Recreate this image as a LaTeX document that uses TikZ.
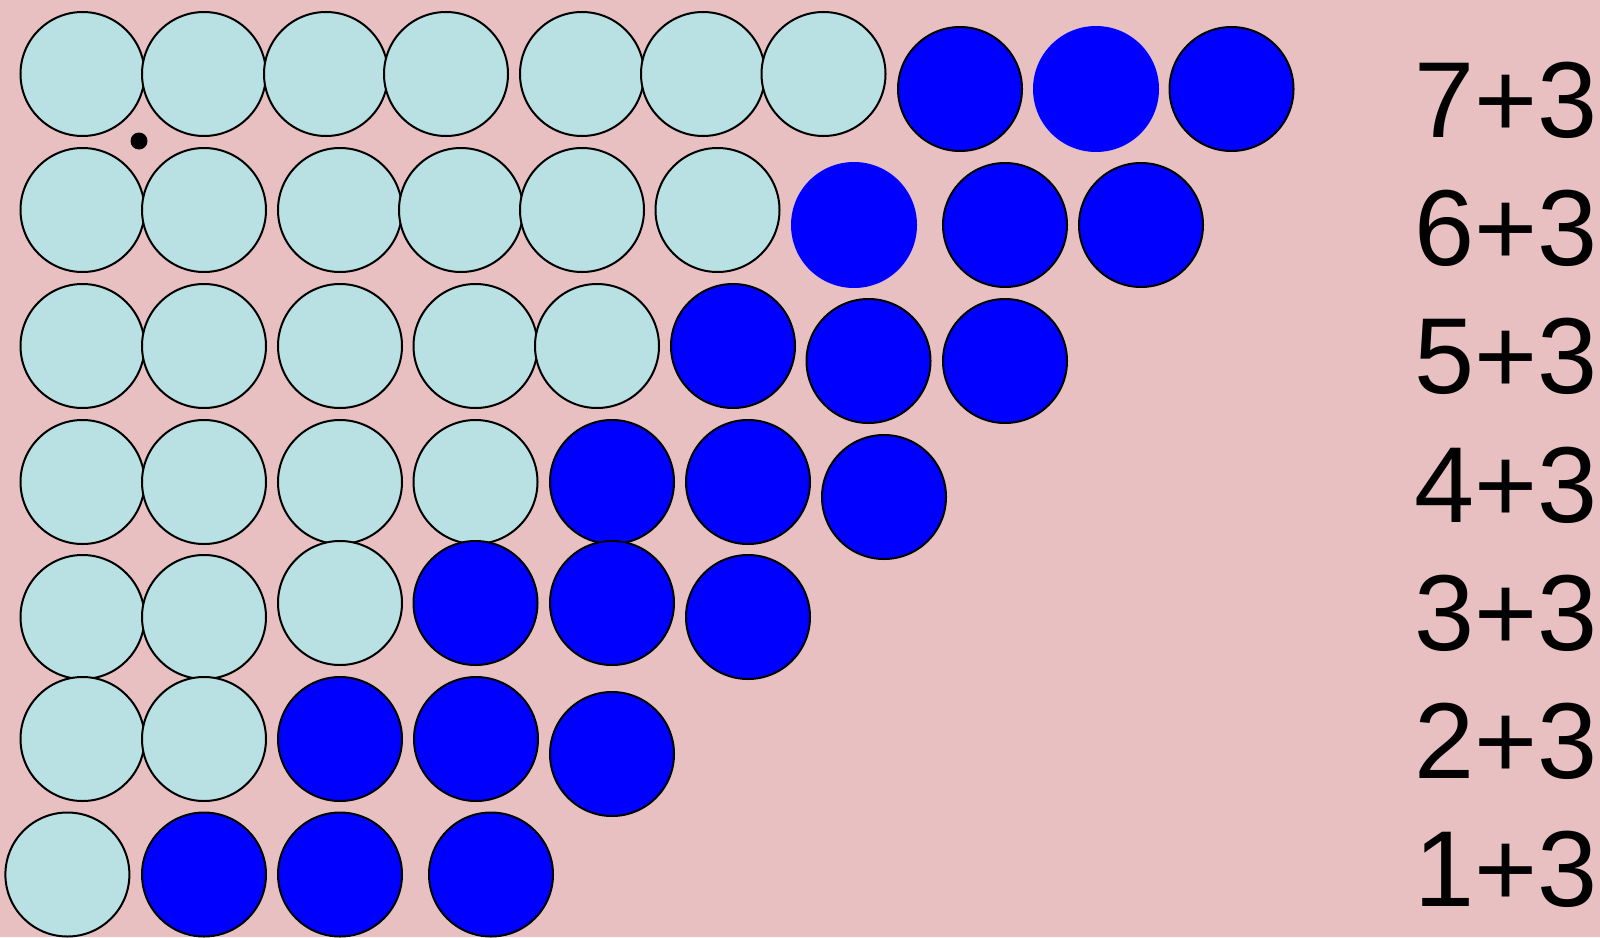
\documentclass[tikz,border=0pt]{standalone}
\usepackage{fontspec}
\setmainfont{Liberation Sans}
\definecolor{bgpink}{RGB}{232,192,194}
\definecolor{lightc}{RGB}{185,224,227}
\definecolor{bluec}{RGB}{0,0,255}
\begin{document}
\begin{tikzpicture}[x=0.5pt,y=-0.5pt,
  lc/.style={circle,draw=black,line width=1pt,fill=lightc,minimum size=62pt,inner sep=0pt},
  bc/.style={circle,draw=black,line width=1pt,fill=bluec,minimum size=62pt,inner sep=0pt},
  bn/.style={circle,fill=bluec,minimum size=63pt,inner sep=0pt},
  sumtxt/.style={anchor=base east,inner sep=0pt,font=\fontsize{54}{60}\selectfont}]
\fill[bgpink] (0,0) rectangle (1600,937);
\useasboundingbox (0,0) rectangle (1600,937);
% row 1
\node[lc] (a1) at (82.5,74) {};
\node[lc] (a2) at (204,74) {};
\node[lc] (a3) at (326,74) {};
\node[lc] (a4) at (446,74) {};
\node[lc] (a5) at (582,74) {};
\node[lc] (a6) at (703,74) {};
\node[lc] (a7) at (823.5,74) {};
\node[bc] (a8) at (960,89) {};
\node[bn] (a9) at (1096,89) {};
\node[bc] (a10) at (1231.5,89) {};
% row 2
\node[lc] (b1) at (82.5,210) {};
\node[lc] (b2) at (204,210) {};
\node[lc] (b3) at (340,210) {};
\node[lc] (b4) at (461,210) {};
\node[lc] (b5) at (582,210) {};
\node[lc] (b6) at (717.5,210) {};
\node[bn] (b7) at (854,225) {};
\node[bc] (b8) at (1005,225) {};
\node[bc] (b9) at (1141,225) {};
% row 3
\node[lc] (c1) at (82.5,346) {};
\node[lc] (c2) at (204,346) {};
\node[lc] (c3) at (340,346) {};
\node[lc] (c4) at (475.5,346) {};
\node[lc] (c5) at (597,346) {};
\node[bc] (c6) at (733,346) {};
\node[bc] (c7) at (868.5,361) {};
\node[bc] (c8) at (1005,361) {};
% row 4
\node[lc] (d1) at (82.5,482) {};
\node[lc] (d2) at (204,482) {};
\node[lc] (d3) at (340,482) {};
\node[lc] (d4) at (475.5,482) {};
\node[bc] (d5) at (612,482) {};
\node[bc] (d6) at (748,482) {};
\node[bc] (d7) at (884,497) {};
% row 5
\node[lc] (e1) at (82.5,617) {};
\node[lc] (e2) at (204,617) {};
\node[lc] (e3) at (340,603) {};
\node[bc] (e4) at (475.5,603) {};
\node[bc] (e5) at (612,603) {};
\node[bc] (e6) at (748,617) {};
% row 6
\node[lc] (f1) at (82.5,739) {};
\node[lc] (f2) at (204,739) {};
\node[bc] (f3) at (340,739) {};
\node[bc] (f4) at (476,739) {};
\node[bc] (f5) at (612,754) {};
% row 7
\node[lc] (g1) at (67.4,874.5) {};
\node[bc] (g2) at (204,874.5) {};
\node[bc] (g3) at (340,874.5) {};
\node[bc] (g4) at (491,874.5) {};
% dot
\node[circle,fill=black,minimum size=8.5pt,inner sep=0pt] (dot) at (139,141) {};
% sums
\node[sumtxt] (s7) at (1598,137.5) {7+3};
\node[sumtxt] (s6) at (1598,265) {6+3};
\node[sumtxt] (s5) at (1598,393.5) {5+3};
\node[sumtxt] (s4) at (1598,522) {4+3};
\node[sumtxt] (s3) at (1598,650.5) {3+3};
\node[sumtxt] (s2) at (1598,778.5) {2+3};
\node[sumtxt] (s1) at (1598,906) {1+3};
\end{tikzpicture}
\end{document}
